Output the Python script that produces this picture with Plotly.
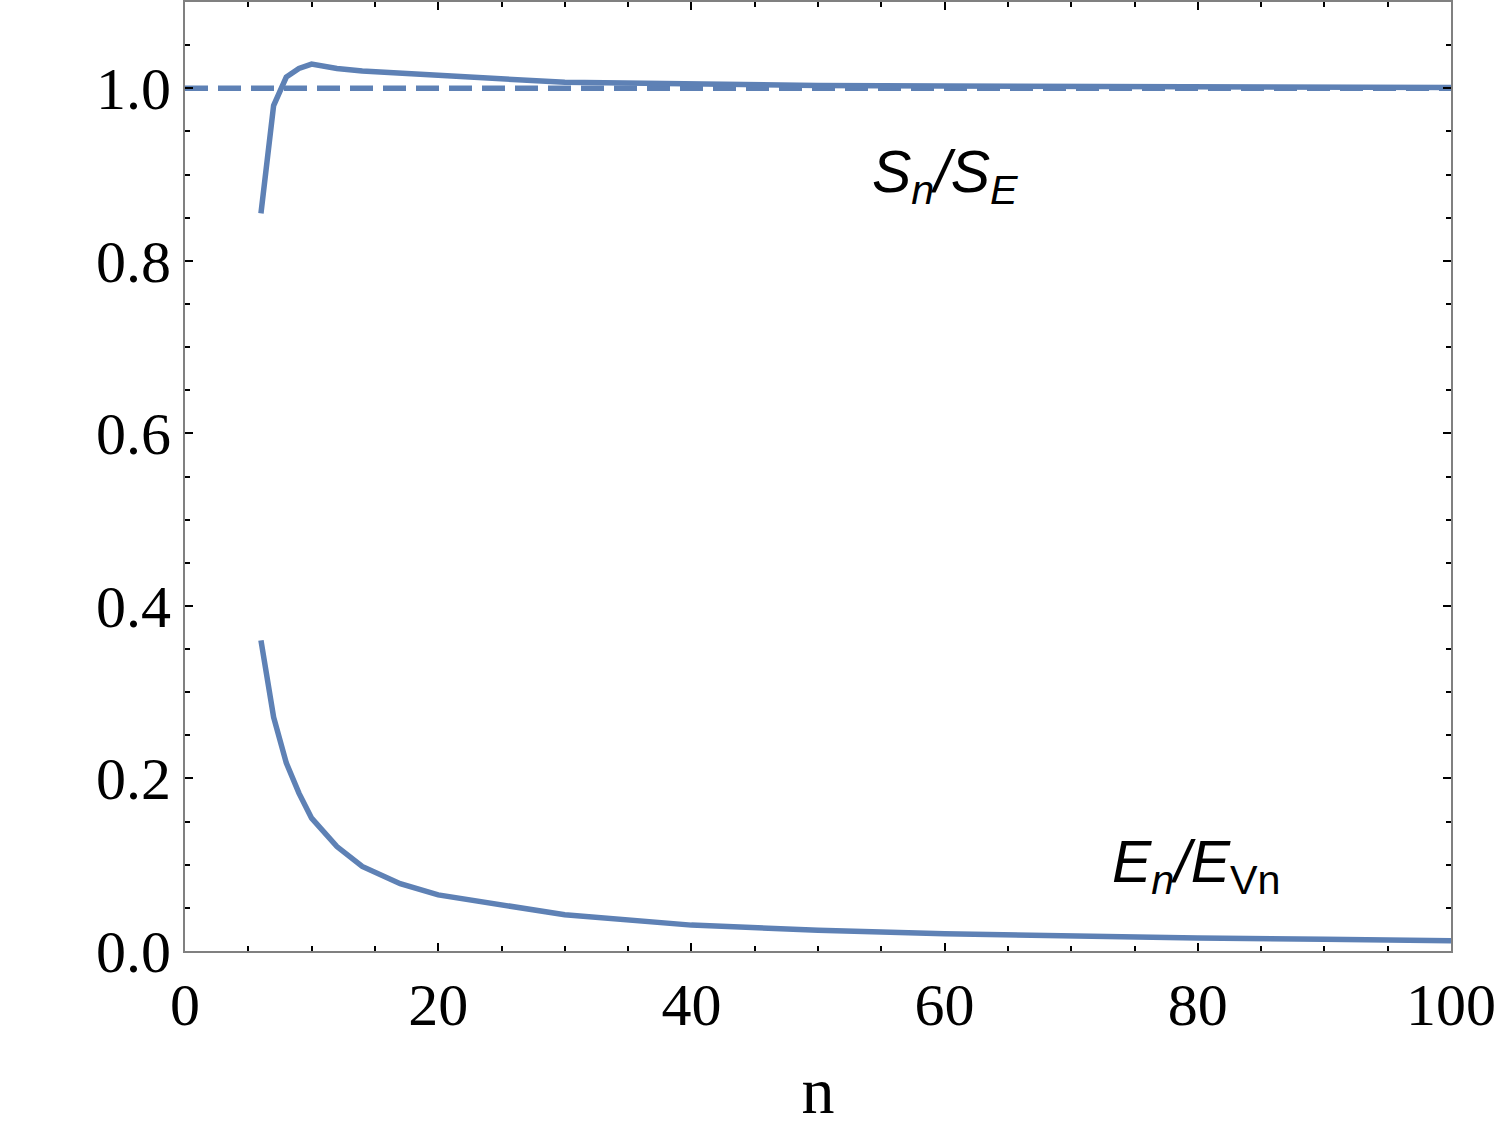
import plotly.graph_objects as go

# data
n_vals = [6, 7, 8, 9, 10, 12, 14, 17, 20, 30, 40, 50, 60, 70, 80, 90, 100]
s_ratio = [0.855, 0.980, 1.013, 1.023, 1.028, 1.023, 1.020, 1.017, 1.015,
           1.007, 1.0045, 1.0033, 1.0025, 1.0019, 1.0014, 1.0011, 1.0008]
e_ratio = [0.360, 0.271, 0.218, 0.183, 0.154, 0.121, 0.098, 0.078, 0.065,
           0.042, 0.030, 0.024, 0.020, 0.017, 0.015, 0.0135, 0.012]
ref_x = [0, 100]
ref_y = [1.0, 1.0]
x_ticks = [0, 20, 40, 60, 80, 100]
y_ticks = [0.0, 0.2, 0.4, 0.6, 0.8, 1.0]

color = "#5E81B5"

fig = go.Figure()
fig.add_trace(go.Scatter(x=ref_x, y=ref_y, mode="lines",
                         line=dict(color=color, width=5.5, dash="23px,10px")))
fig.add_trace(go.Scatter(x=n_vals, y=s_ratio, mode="lines",
                         line=dict(color=color, width=5.5)))
fig.add_trace(go.Scatter(x=n_vals, y=e_ratio, mode="lines",
                         line=dict(color=color, width=5.5)))

axis_common = dict(
    showline=True, linecolor="#808080", linewidth=2, mirror="allticks",
    ticks="inside", ticklen=8, tickwidth=2, tickcolor="black",
    showgrid=False, zeroline=False,
    tickfont=dict(family="Liberation Serif", size=60, color="black"),
)

fig.update_xaxes(range=[0, 100], tickvals=x_ticks,
                 ticktext=[str(v) for v in x_ticks],
                 minor=dict(dtick=5, ticks="inside", ticklen=5, tickwidth=2,
                            tickcolor="black", showgrid=False),
                 title=dict(text="n", font=dict(family="Liberation Serif", size=66, color="black"),
                            standoff=30),
                 **axis_common)
fig.update_yaxes(range=[0, 1.1], tickvals=y_ticks,
                 ticktext=[f"{v:.1f}" for v in y_ticks],
                 minor=dict(dtick=0.05, ticks="inside", ticklen=5, tickwidth=2,
                            tickcolor="black", showgrid=False),
                 **axis_common)

L, R, T, B = 185, 49, 2, 181
W, H = 1500, 1132
pw, ph = W - L - R, H - T - B


def px_to_paper(px, py):
    return (px - L) / pw, 1 - (py - T) / ph


sx, sy = px_to_paper(945, 137)
ex, ey = px_to_paper(1283, 905)
fig.add_annotation(x=sx, y=sy, xref="paper", yref="paper", showarrow=False,
                   text="<i>S</i><sub><i>n</i></sub><i>/S</i><sub><i>E</i></sub>",
                   font=dict(family="Liberation Sans", size=59, color="black"))
fig.add_annotation(x=ex, y=ey, xref="paper", yref="paper", showarrow=False,
                   text="<i>E</i><sub><i>n</i></sub><i>/E</i><sub>Vn</sub>",
                   font=dict(family="Liberation Sans", size=59, color="black"))

fig.update_layout(
    width=W, height=H,
    margin=dict(l=L, r=R, t=T, b=B, autoexpand=False),
    paper_bgcolor="white", plot_bgcolor="white",
    showlegend=False,
)

fig.write_html("out.html")
